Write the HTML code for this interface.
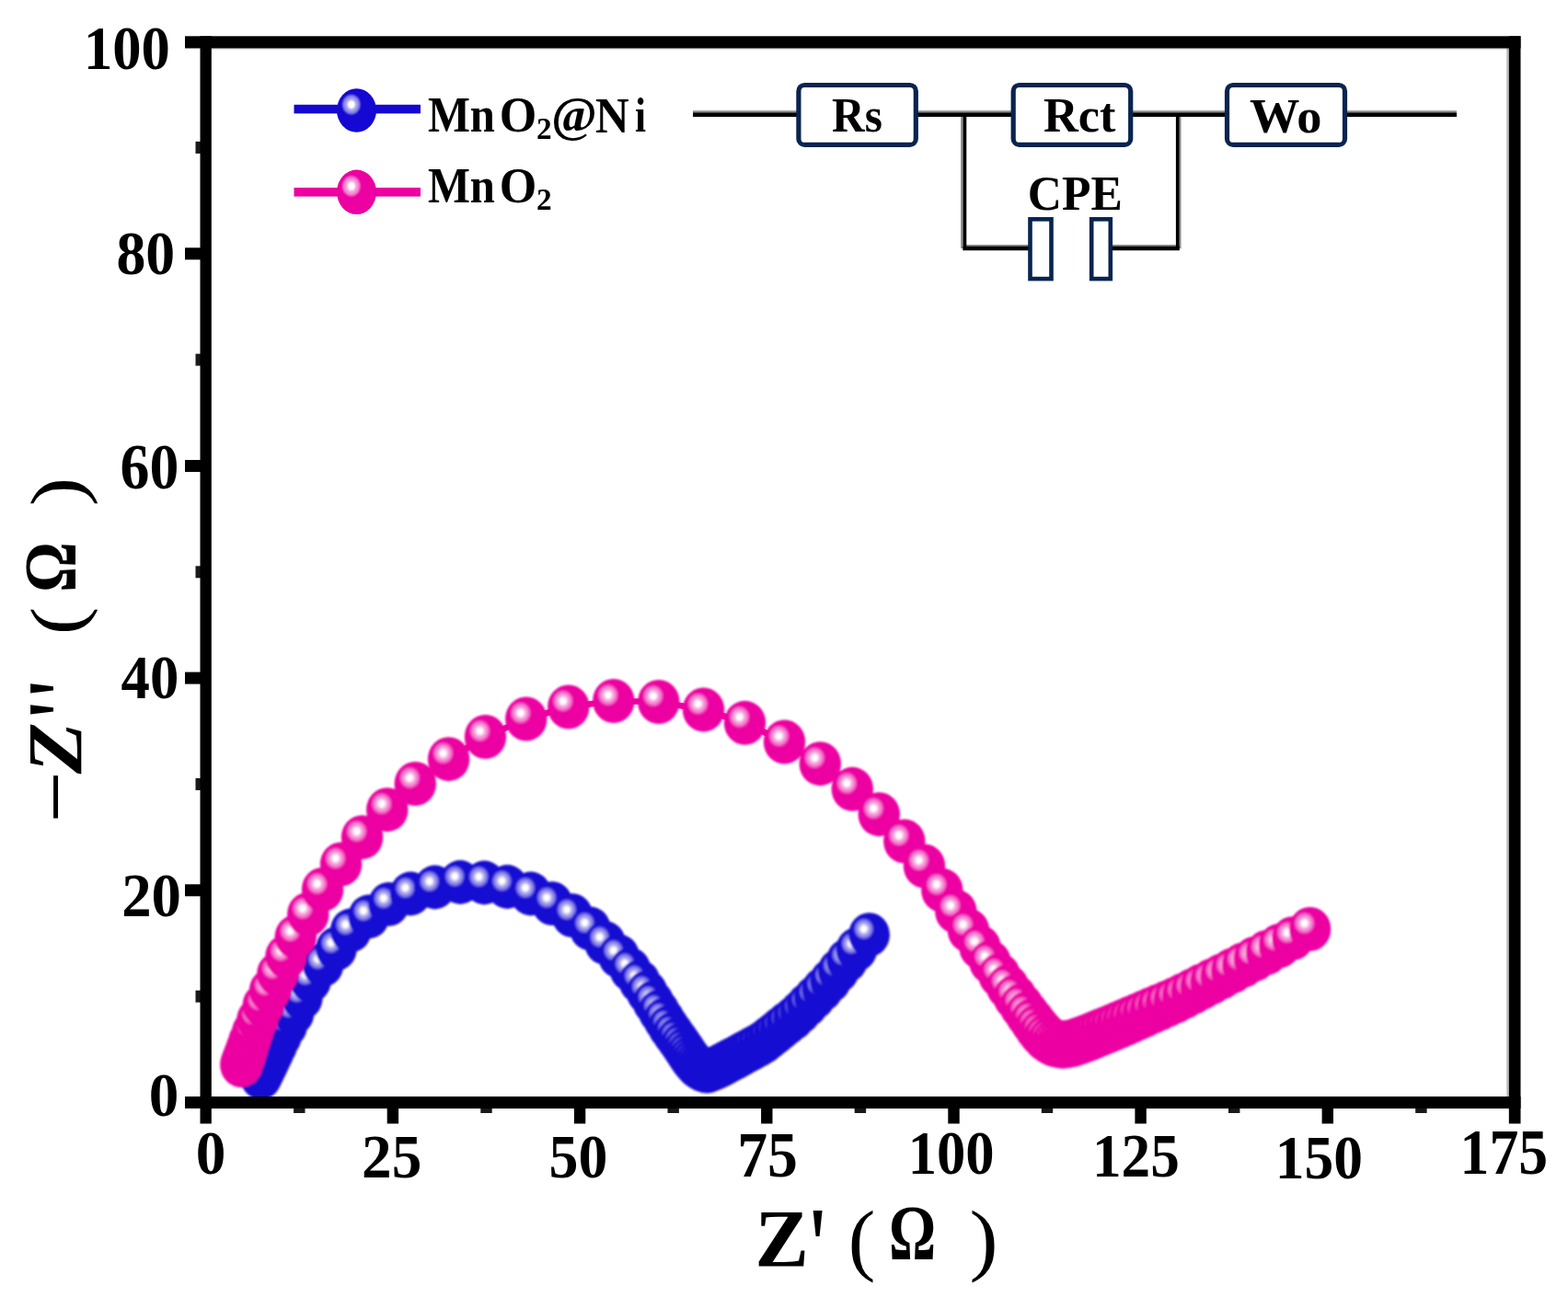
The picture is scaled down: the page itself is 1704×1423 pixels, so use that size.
<!DOCTYPE html>
<html lang="en">
<head>
<meta charset="utf-8">
<title>Nyquist plot: MnO2@Ni vs MnO2</title>
<style>
html,body{margin:0;padding:0;background:#fff;}
body{width:1704px;height:1423px;overflow:hidden;}
svg{display:block;}
</style>
</head>
<body>
<svg width="1704" height="1423" viewBox="0 0 1704 1423" role="img" aria-label="Nyquist plot of MnO2@Ni and MnO2 with equivalent circuit">
<rect width="1704" height="1423" fill="#fff"/>
<defs>
<radialGradient id="gb" cx="0.368" cy="0.366" r="0.262" fx="0.368" fy="0.366"><stop offset="0" stop-color="#fff"/><stop offset="0.24" stop-color="#fff"/><stop offset="0.45" stop-color="#b4b0f1"/><stop offset="0.75" stop-color="#7e77e6"/><stop offset="0.92" stop-color="#3026d7"/><stop offset="1" stop-color="#1408d2"/></radialGradient>
<radialGradient id="gp" cx="0.368" cy="0.366" r="0.262" fx="0.368" fy="0.366"><stop offset="0" stop-color="#fff"/><stop offset="0.24" stop-color="#fff"/><stop offset="0.45" stop-color="#f9ade1"/><stop offset="0.75" stop-color="#f573cb"/><stop offset="0.92" stop-color="#ee1fac"/><stop offset="1" stop-color="#ec00a1"/></radialGradient>
<filter id="soft" x="-2%" y="-5%" width="104%" height="110%"><feGaussianBlur stdDeviation="0.9"/></filter>
</defs>
<!-- series 1: MnO2@Ni -->
<path d="M283.7 1171.4 L285.0 1168.7 L286.6 1165.5 L288.5 1161.6 L290.8 1157.0 L293.5 1151.3 L296.8 1144.6 L300.7 1136.4 L305.4 1126.7 L311.6 1115.1 L319.1 1101.3 L328.3 1084.8 L337.5 1066.0 L351.1 1048.8 L365.5 1031.3 L381.3 1011.5 L400.8 996.5 L422.6 982.8 L446.3 971.5 L472.6 964.5 L500.1 959.0 L526.3 959.5 L551.3 964.0 L576.8 971.5 L600.0 982.2 L621.8 995.2 L641.3 1009.5 L657.5 1025.0 L672.5 1039.5 L684.8 1053.8 L695.0 1067.0 L703.1 1078.7 L710.0 1089.6 L716.1 1099.5 L721.6 1108.4 L726.6 1116.5 L731.5 1123.5 L736.0 1129.9 L740.1 1135.6 L743.6 1140.8 L746.7 1145.6 L749.6 1150.0 L752.4 1153.7 L755.2 1156.9 L757.8 1159.6 L760.7 1161.5 L763.4 1163.1 L766.1 1163.9 L768.5 1164.7 L770.9 1163.7 L773.4 1162.7 L776.1 1161.6 L779.0 1160.4 L782.0 1159.0 L785.1 1157.3 L788.4 1155.6 L792.0 1153.7 L795.8 1151.7 L799.9 1149.6 L804.2 1147.2 L808.7 1144.7 L813.6 1142.0 L818.8 1139.1 L824.4 1136.1 L830.2 1132.6 L835.8 1128.1 L841.9 1123.3 L848.3 1118.2 L855.2 1112.7 L862.6 1106.9 L869.8 1100.1 L877.3 1092.5 L885.3 1084.4 L893.8 1075.7 L902.5 1066.1 L911.2 1055.4 L920.6 1044.0 L930.9 1032.1 L944.6 1016.2" fill="none" stroke="#1408d2" stroke-width="6.7" stroke-linejoin="round" stroke-linecap="round"/>
<g fill="url(#gb)" filter="url(#soft)">
<ellipse cx="283.7" cy="1171.4" rx="22.3" ry="23.9"/>
<ellipse cx="285.0" cy="1168.7" rx="22.3" ry="23.9"/>
<ellipse cx="286.6" cy="1165.5" rx="22.3" ry="23.9"/>
<ellipse cx="288.5" cy="1161.6" rx="22.3" ry="23.9"/>
<ellipse cx="290.8" cy="1157.0" rx="22.3" ry="23.9"/>
<ellipse cx="293.5" cy="1151.3" rx="22.3" ry="23.9"/>
<ellipse cx="296.8" cy="1144.6" rx="22.3" ry="23.9"/>
<ellipse cx="300.7" cy="1136.4" rx="22.3" ry="23.9"/>
<ellipse cx="305.4" cy="1126.7" rx="22.3" ry="23.9"/>
<ellipse cx="311.6" cy="1115.1" rx="22.3" ry="23.9"/>
<ellipse cx="319.1" cy="1101.3" rx="22.3" ry="23.9"/>
<ellipse cx="328.3" cy="1084.8" rx="22.3" ry="23.9"/>
<ellipse cx="337.5" cy="1066.0" rx="22.3" ry="23.9"/>
<ellipse cx="351.1" cy="1048.8" rx="22.3" ry="23.9"/>
<ellipse cx="365.5" cy="1031.3" rx="22.3" ry="23.9"/>
<ellipse cx="381.3" cy="1011.5" rx="22.3" ry="23.9"/>
<ellipse cx="400.8" cy="996.5" rx="22.3" ry="23.9"/>
<ellipse cx="422.6" cy="982.8" rx="22.3" ry="23.9"/>
<ellipse cx="446.3" cy="971.5" rx="22.3" ry="23.9"/>
<ellipse cx="472.6" cy="964.5" rx="22.3" ry="23.9"/>
<ellipse cx="500.1" cy="959.0" rx="22.3" ry="23.9"/>
<ellipse cx="526.3" cy="959.5" rx="22.3" ry="23.9"/>
<ellipse cx="551.3" cy="964.0" rx="22.3" ry="23.9"/>
<ellipse cx="576.8" cy="971.5" rx="22.3" ry="23.9"/>
<ellipse cx="600.0" cy="982.2" rx="22.3" ry="23.9"/>
<ellipse cx="621.8" cy="995.2" rx="22.3" ry="23.9"/>
<ellipse cx="641.3" cy="1009.5" rx="22.3" ry="23.9"/>
<ellipse cx="657.5" cy="1025.0" rx="22.3" ry="23.9"/>
<ellipse cx="672.5" cy="1039.5" rx="22.3" ry="23.9"/>
<ellipse cx="684.8" cy="1053.8" rx="22.3" ry="23.9"/>
<ellipse cx="695.0" cy="1067.0" rx="22.3" ry="23.9"/>
<ellipse cx="703.1" cy="1078.7" rx="22.3" ry="23.9"/>
<ellipse cx="710.0" cy="1089.6" rx="22.3" ry="23.9"/>
<ellipse cx="716.1" cy="1099.5" rx="22.3" ry="23.9"/>
<ellipse cx="721.6" cy="1108.4" rx="22.3" ry="23.9"/>
<ellipse cx="726.6" cy="1116.5" rx="22.3" ry="23.9"/>
<ellipse cx="731.5" cy="1123.5" rx="22.3" ry="23.9"/>
<ellipse cx="736.0" cy="1129.9" rx="22.3" ry="23.9"/>
<ellipse cx="740.1" cy="1135.6" rx="22.3" ry="23.9"/>
<ellipse cx="743.6" cy="1140.8" rx="22.3" ry="23.9"/>
<ellipse cx="746.7" cy="1145.6" rx="22.3" ry="23.9"/>
<ellipse cx="749.6" cy="1150.0" rx="22.3" ry="23.9"/>
<ellipse cx="752.4" cy="1153.7" rx="22.3" ry="23.9"/>
<ellipse cx="755.2" cy="1156.9" rx="22.3" ry="23.9"/>
<ellipse cx="757.8" cy="1159.6" rx="22.3" ry="23.9"/>
<ellipse cx="760.7" cy="1161.5" rx="22.3" ry="23.9"/>
<ellipse cx="763.4" cy="1163.1" rx="22.3" ry="23.9"/>
<ellipse cx="766.1" cy="1163.9" rx="22.3" ry="23.9"/>
<ellipse cx="768.5" cy="1164.7" rx="22.3" ry="23.9"/>
<ellipse cx="770.9" cy="1163.7" rx="22.3" ry="23.9"/>
<ellipse cx="773.4" cy="1162.7" rx="22.3" ry="23.9"/>
<ellipse cx="776.1" cy="1161.6" rx="22.3" ry="23.9"/>
<ellipse cx="779.0" cy="1160.4" rx="22.3" ry="23.9"/>
<ellipse cx="782.0" cy="1159.0" rx="22.3" ry="23.9"/>
<ellipse cx="785.1" cy="1157.3" rx="22.3" ry="23.9"/>
<ellipse cx="788.4" cy="1155.6" rx="22.3" ry="23.9"/>
<ellipse cx="792.0" cy="1153.7" rx="22.3" ry="23.9"/>
<ellipse cx="795.8" cy="1151.7" rx="22.3" ry="23.9"/>
<ellipse cx="799.9" cy="1149.6" rx="22.3" ry="23.9"/>
<ellipse cx="804.2" cy="1147.2" rx="22.3" ry="23.9"/>
<ellipse cx="808.7" cy="1144.7" rx="22.3" ry="23.9"/>
<ellipse cx="813.6" cy="1142.0" rx="22.3" ry="23.9"/>
<ellipse cx="818.8" cy="1139.1" rx="22.3" ry="23.9"/>
<ellipse cx="824.4" cy="1136.1" rx="22.3" ry="23.9"/>
<ellipse cx="830.2" cy="1132.6" rx="22.3" ry="23.9"/>
<ellipse cx="835.8" cy="1128.1" rx="22.3" ry="23.9"/>
<ellipse cx="841.9" cy="1123.3" rx="22.3" ry="23.9"/>
<ellipse cx="848.3" cy="1118.2" rx="22.3" ry="23.9"/>
<ellipse cx="855.2" cy="1112.7" rx="22.3" ry="23.9"/>
<ellipse cx="862.6" cy="1106.9" rx="22.3" ry="23.9"/>
<ellipse cx="869.8" cy="1100.1" rx="22.3" ry="23.9"/>
<ellipse cx="877.3" cy="1092.5" rx="22.3" ry="23.9"/>
<ellipse cx="885.3" cy="1084.4" rx="22.3" ry="23.9"/>
<ellipse cx="893.8" cy="1075.7" rx="22.3" ry="23.9"/>
<ellipse cx="902.5" cy="1066.1" rx="22.3" ry="23.9"/>
<ellipse cx="911.2" cy="1055.4" rx="22.3" ry="23.9"/>
<ellipse cx="920.6" cy="1044.0" rx="22.3" ry="23.9"/>
<ellipse cx="930.9" cy="1032.1" rx="22.3" ry="23.9"/>
<ellipse cx="944.6" cy="1016.2" rx="22.3" ry="23.9"/>
</g>
<!-- series 2: MnO2 -->
<path d="M262.5 1157.5 L263.5 1154.6 L264.7 1150.9 L266.4 1146.1 L268.5 1140.0 L271.2 1131.9 L274.9 1121.7 L280.0 1108.5 L286.3 1093.0 L293.5 1077.0 L301.8 1059.0 L311.0 1039.8 L321.3 1018.5 L334.8 994.0 L350.6 967.0 L370.6 939.5 L393.6 910.2 L420.8 880.2 L451.3 852.0 L487.6 825.2 L527.5 801.0 L571.8 781.5 L617.8 768.5 L666.8 762.0 L715.8 763.0 L764.5 771.5 L809.5 785.8 L852.5 806.5 L891.3 830.2 L926.3 857.8 L955.3 885.2 L982.8 914.5 L1004.5 941.5 L1023.8 967.8 L1038.8 990.8 L1052.5 1011.5 L1065.0 1029.7 L1076.0 1045.9 L1086.0 1060.1 L1095.0 1072.7 L1103.0 1083.9 L1110.2 1093.8 L1116.5 1102.6 L1122.2 1110.4 L1127.2 1117.3 L1132.0 1123.2 L1136.7 1128.1 L1141.5 1131.5 L1146.2 1134.0 L1150.9 1134.9 L1155.0 1135.7 L1159.1 1135.1 L1163.4 1134.5 L1167.7 1133.3 L1172.2 1131.8 L1176.9 1130.1 L1181.8 1128.3 L1186.8 1126.2 L1192.0 1124.0 L1197.5 1121.7 L1203.3 1119.4 L1209.3 1116.9 L1215.7 1114.2 L1222.3 1111.5 L1229.1 1108.5 L1236.3 1105.4 L1243.8 1102.1 L1251.7 1098.6 L1259.9 1095.0 L1268.5 1091.3 L1277.5 1087.3 L1286.7 1082.7 L1296.3 1077.7 L1306.3 1072.5 L1316.8 1067.1 L1327.8 1061.4 L1339.2 1055.4 L1351.2 1049.0 L1363.7 1042.4 L1376.8 1035.4 L1390.5 1028.1 L1404.7 1020.2 L1423.6 1010.0" fill="none" stroke="#ec00a1" stroke-width="6.7" stroke-linejoin="round" stroke-linecap="round"/>
<g fill="url(#gp)" filter="url(#soft)">
<ellipse cx="262.5" cy="1157.5" rx="23.4" ry="24.7"/>
<ellipse cx="263.5" cy="1154.6" rx="23.4" ry="24.7"/>
<ellipse cx="264.7" cy="1150.9" rx="23.3" ry="24.7"/>
<ellipse cx="266.4" cy="1146.1" rx="23.3" ry="24.6"/>
<ellipse cx="268.5" cy="1140.0" rx="23.1" ry="24.5"/>
<ellipse cx="271.2" cy="1131.9" rx="23.0" ry="24.3"/>
<ellipse cx="274.9" cy="1121.7" rx="22.8" ry="24.1"/>
<ellipse cx="280.0" cy="1108.5" rx="22.7" ry="24.0"/>
<ellipse cx="286.3" cy="1093.0" rx="22.7" ry="24.0"/>
<ellipse cx="293.5" cy="1077.0" rx="22.7" ry="24.0"/>
<ellipse cx="301.8" cy="1059.0" rx="22.7" ry="24.0"/>
<ellipse cx="311.0" cy="1039.8" rx="22.7" ry="24.0"/>
<ellipse cx="321.3" cy="1018.5" rx="22.7" ry="24.0"/>
<ellipse cx="334.8" cy="994.0" rx="22.7" ry="24.0"/>
<ellipse cx="350.6" cy="967.0" rx="22.7" ry="24.0"/>
<ellipse cx="370.6" cy="939.5" rx="22.7" ry="24.0"/>
<ellipse cx="393.6" cy="910.2" rx="22.7" ry="24.0"/>
<ellipse cx="420.8" cy="880.2" rx="22.7" ry="24.0"/>
<ellipse cx="451.3" cy="852.0" rx="22.7" ry="24.0"/>
<ellipse cx="487.6" cy="825.2" rx="22.7" ry="24.0"/>
<ellipse cx="527.5" cy="801.0" rx="22.7" ry="24.0"/>
<ellipse cx="571.8" cy="781.5" rx="22.7" ry="24.0"/>
<ellipse cx="617.8" cy="768.5" rx="22.7" ry="24.0"/>
<ellipse cx="666.8" cy="762.0" rx="22.7" ry="24.0"/>
<ellipse cx="715.8" cy="763.0" rx="22.7" ry="24.0"/>
<ellipse cx="764.5" cy="771.5" rx="22.7" ry="24.0"/>
<ellipse cx="809.5" cy="785.8" rx="22.7" ry="24.0"/>
<ellipse cx="852.5" cy="806.5" rx="22.7" ry="24.0"/>
<ellipse cx="891.3" cy="830.2" rx="22.7" ry="24.0"/>
<ellipse cx="926.3" cy="857.8" rx="22.7" ry="24.0"/>
<ellipse cx="955.3" cy="885.2" rx="22.7" ry="24.0"/>
<ellipse cx="982.8" cy="914.5" rx="22.7" ry="24.0"/>
<ellipse cx="1004.5" cy="941.5" rx="22.7" ry="24.0"/>
<ellipse cx="1023.8" cy="967.8" rx="22.7" ry="24.0"/>
<ellipse cx="1038.8" cy="990.8" rx="22.7" ry="24.0"/>
<ellipse cx="1052.5" cy="1011.5" rx="22.7" ry="24.0"/>
<ellipse cx="1065.0" cy="1029.7" rx="22.7" ry="24.0"/>
<ellipse cx="1076.0" cy="1045.9" rx="22.7" ry="24.0"/>
<ellipse cx="1086.0" cy="1060.1" rx="22.8" ry="24.1"/>
<ellipse cx="1095.0" cy="1072.7" rx="23.2" ry="24.5"/>
<ellipse cx="1103.0" cy="1083.9" rx="23.5" ry="24.8"/>
<ellipse cx="1110.2" cy="1093.8" rx="23.8" ry="25.1"/>
<ellipse cx="1116.5" cy="1102.6" rx="24.0" ry="25.4"/>
<ellipse cx="1122.2" cy="1110.4" rx="24.2" ry="25.6"/>
<ellipse cx="1127.2" cy="1117.3" rx="24.4" ry="25.8"/>
<ellipse cx="1132.0" cy="1123.2" rx="24.6" ry="26.0"/>
<ellipse cx="1136.7" cy="1128.1" rx="24.6" ry="26.0"/>
<ellipse cx="1141.5" cy="1131.5" rx="24.6" ry="26.0"/>
<ellipse cx="1146.2" cy="1134.0" rx="24.6" ry="26.0"/>
<ellipse cx="1150.9" cy="1134.9" rx="24.6" ry="26.0"/>
<ellipse cx="1155.0" cy="1135.7" rx="24.6" ry="26.0"/>
<ellipse cx="1159.1" cy="1135.1" rx="24.6" ry="26.0"/>
<ellipse cx="1163.4" cy="1134.5" rx="24.6" ry="26.0"/>
<ellipse cx="1167.7" cy="1133.3" rx="24.6" ry="26.0"/>
<ellipse cx="1172.2" cy="1131.8" rx="24.6" ry="26.0"/>
<ellipse cx="1176.9" cy="1130.1" rx="24.6" ry="26.0"/>
<ellipse cx="1181.8" cy="1128.3" rx="24.6" ry="26.0"/>
<ellipse cx="1186.8" cy="1126.2" rx="24.6" ry="26.0"/>
<ellipse cx="1192.0" cy="1124.0" rx="24.6" ry="26.0"/>
<ellipse cx="1197.5" cy="1121.7" rx="24.6" ry="26.0"/>
<ellipse cx="1203.3" cy="1119.4" rx="24.6" ry="26.0"/>
<ellipse cx="1209.3" cy="1116.9" rx="24.6" ry="26.0"/>
<ellipse cx="1215.7" cy="1114.2" rx="24.6" ry="26.0"/>
<ellipse cx="1222.3" cy="1111.5" rx="24.6" ry="26.0"/>
<ellipse cx="1229.1" cy="1108.5" rx="24.5" ry="25.9"/>
<ellipse cx="1236.3" cy="1105.4" rx="24.4" ry="25.8"/>
<ellipse cx="1243.8" cy="1102.1" rx="24.4" ry="25.8"/>
<ellipse cx="1251.7" cy="1098.6" rx="24.3" ry="25.7"/>
<ellipse cx="1259.9" cy="1095.0" rx="24.2" ry="25.6"/>
<ellipse cx="1268.5" cy="1091.3" rx="24.1" ry="25.5"/>
<ellipse cx="1277.5" cy="1087.3" rx="24.0" ry="25.4"/>
<ellipse cx="1286.7" cy="1082.7" rx="23.9" ry="25.3"/>
<ellipse cx="1296.3" cy="1077.7" rx="23.9" ry="25.2"/>
<ellipse cx="1306.3" cy="1072.5" rx="23.8" ry="25.1"/>
<ellipse cx="1316.8" cy="1067.1" rx="23.6" ry="25.0"/>
<ellipse cx="1327.8" cy="1061.4" rx="23.5" ry="24.9"/>
<ellipse cx="1339.2" cy="1055.4" rx="23.4" ry="24.8"/>
<ellipse cx="1351.2" cy="1049.0" rx="23.3" ry="24.6"/>
<ellipse cx="1363.7" cy="1042.4" rx="23.2" ry="24.5"/>
<ellipse cx="1376.8" cy="1035.4" rx="23.1" ry="24.4"/>
<ellipse cx="1390.5" cy="1028.1" rx="22.9" ry="24.2"/>
<ellipse cx="1404.7" cy="1020.2" rx="22.7" ry="24.0"/>
<ellipse cx="1423.6" cy="1010.0" rx="22.7" ry="24.0"/>
</g>
<!-- axes frame -->
<g fill="#000">
<rect x="201" y="39.3" width="1451.5" height="13.2"/>
<rect x="217.5" y="39.3" width="12.3" height="1182.2"/>
<rect x="1639.8" y="39.3" width="12.7" height="1182.2"/>
<rect x="201" y="1192" width="1451.5" height="13"/>
<rect x="201" y="961.3" width="17" height="13"/>
<rect x="201" y="730.6" width="17" height="13"/>
<rect x="201" y="500.0" width="17" height="13"/>
<rect x="201" y="269.3" width="17" height="13"/>
<rect x="212.5" y="1076.7" width="6" height="13" opacity="0.9"/>
<rect x="212.5" y="846.0" width="6" height="13" opacity="0.9"/>
<rect x="212.5" y="615.3" width="6" height="13" opacity="0.9"/>
<rect x="212.5" y="384.6" width="6" height="13" opacity="0.9"/>
<rect x="212.5" y="153.9" width="6" height="13" opacity="0.9"/>
<rect x="420.7" y="1204" width="12.4" height="17.5"/>
<rect x="623.9" y="1204" width="12.4" height="17.5"/>
<rect x="827.1" y="1204" width="12.4" height="17.5"/>
<rect x="1030.3" y="1204" width="12.4" height="17.5"/>
<rect x="1233.4" y="1204" width="12.4" height="17.5"/>
<rect x="1436.6" y="1204" width="12.4" height="17.5"/>
<rect x="319.1" y="1204" width="12.4" height="6" opacity="0.9"/>
<rect x="522.3" y="1204" width="12.4" height="6" opacity="0.9"/>
<rect x="725.5" y="1204" width="12.4" height="6" opacity="0.9"/>
<rect x="928.7" y="1204" width="12.4" height="6" opacity="0.9"/>
<rect x="1131.8" y="1204" width="12.4" height="6" opacity="0.9"/>
<rect x="1335.0" y="1204" width="12.4" height="6" opacity="0.9"/>
<rect x="1538.2" y="1204" width="12.4" height="6" opacity="0.9"/>
</g>
<g fill="#000" opacity="0.12">
<rect x="229.8" y="52.5" width="1410" height="1.6"/>
<rect x="229.8" y="1205" width="1410" height="1.6"/>
</g>
<rect x="1637.3" y="52.5" width="2.5" height="1139.5" fill="#000" opacity="0.28"/>
<!-- tick labels -->
<g fill="#000">
<text transform="matrix(0.9211 0 0 1.0054 90.89 75.24)" font-family="'Liberation Serif', serif" font-size="68" font-weight="bold" font-style="normal" >100</text>
<text transform="matrix(0.9375 0 0 1.0054 126.38 297.74)" font-family="'Liberation Serif', serif" font-size="68" font-weight="bold" font-style="normal" >80</text>
<text transform="matrix(0.9375 0 0 1.0109 130.62 530.99)" font-family="'Liberation Serif', serif" font-size="68" font-weight="bold" font-style="normal" >60</text>
<text transform="matrix(0.9231 0 0 0.9946 131.58 758.51)" font-family="'Liberation Serif', serif" font-size="68" font-weight="bold" font-style="normal" >40</text>
<text transform="matrix(0.9524 0 0 0.9946 132.14 996.01)" font-family="'Liberation Serif', serif" font-size="68" font-weight="bold" font-style="normal" >20</text>
<text transform="matrix(0.9583 0 0 0.9946 161.83 1213.01)" font-family="'Liberation Serif', serif" font-size="68" font-weight="bold" font-style="normal" >0</text>
<text transform="matrix(0.9600 0 0 1.0065 212.78 1276.29)" font-family="'Liberation Serif', serif" font-size="68" font-weight="bold" font-style="normal" >0</text>
<text transform="matrix(0.9603 0 0 1.0000 393.12 1280.00)" font-family="'Liberation Serif', serif" font-size="68" font-weight="bold" font-style="normal" >25</text>
<text transform="matrix(0.9375 0 0 0.9957 596.62 1280.30)" font-family="'Liberation Serif', serif" font-size="68" font-weight="bold" font-style="normal" >50</text>
<text transform="matrix(0.9677 0 0 1.0111 801.13 1278.99)" font-family="'Liberation Serif', serif" font-size="68" font-weight="bold" font-style="normal" >75</text>
<text transform="matrix(0.9211 0 0 0.9946 986.64 1275.51)" font-family="'Liberation Serif', serif" font-size="68" font-weight="bold" font-style="normal" >100</text>
<text transform="matrix(0.9305 0 0 0.9891 1186.95 1279.01)" font-family="'Liberation Serif', serif" font-size="68" font-weight="bold" font-style="normal" >125</text>
<text transform="matrix(0.9337 0 0 1.0065 1385.83 1280.79)" font-family="'Liberation Serif', serif" font-size="68" font-weight="bold" font-style="normal" >150</text>
<text transform="matrix(0.9368 0 0 1.0222 1586.62 1275.68)" font-family="'Liberation Serif', serif" font-size="68" font-weight="bold" font-style="normal" >175</text>
</g>
<!-- axis titles -->
<g fill="#000">
<text font-family="'Liberation Serif', serif" font-weight="bold"><tspan x="820.48" y="1376.00" font-size="88.53" textLength="58.38" lengthAdjust="spacingAndGlyphs">Z</tspan><tspan x="877.80" y="1393.69" font-size="117.66" textLength="21.75" lengthAdjust="spacingAndGlyphs">'</tspan> <tspan x="921.74" y="1375.83" font-size="85.88" textLength="29.59" lengthAdjust="spacingAndGlyphs" font-weight="normal">(</tspan><tspan x="966.06" y="1368.83" font-size="84.05" textLength="51.13" lengthAdjust="spacingAndGlyphs">Ω</tspan><tspan x="1053.45" y="1375.83" font-size="85.88" textLength="31.13" lengthAdjust="spacingAndGlyphs" font-weight="normal">)</tspan></text>
<text font-family="'Liberation Serif', serif" font-weight="bold" transform="rotate(-90)"><tspan x="-894.59" y="94.40" font-size="100.05" textLength="56.26" lengthAdjust="spacingAndGlyphs" font-weight="normal">−</tspan><tspan x="-841.25" y="88.75" font-size="83.95" textLength="56.02" lengthAdjust="spacingAndGlyphs" font-style="italic">Z</tspan><tspan x="-782.67" y="102.89" font-size="106.68" textLength="45.66" lengthAdjust="spacingAndGlyphs">''</tspan> <tspan x="-690.12" y="88.77" font-size="80.87" textLength="30.19" lengthAdjust="spacingAndGlyphs" font-weight="normal">(</tspan><tspan x="-643.63" y="82.08" font-size="80.00" textLength="54.50" lengthAdjust="spacingAndGlyphs">Ω</tspan><tspan x="-550.17" y="88.77" font-size="80.87" textLength="31.50" lengthAdjust="spacingAndGlyphs" font-weight="normal">)</tspan></text>
</g>
<!-- legend -->
<rect x="319.5" y="113.8" width="137.5" height="9.6" fill="#1408d2"/>
<ellipse cx="387.5" cy="120" rx="21.5" ry="23.7" fill="url(#gb)"/>
<rect x="319.5" y="204" width="137.5" height="9.6" fill="#ec00a1"/>
<ellipse cx="387.5" cy="208.8" rx="21.5" ry="24.2" fill="url(#gp)"/>
<g fill="#000">
<text font-family="'Liberation Serif', serif" font-weight="bold"><tspan x="464.90" y="143.10" font-size="54.00" textLength="73.00" lengthAdjust="spacingAndGlyphs">Mn</tspan><tspan x="542.87" y="142.88" font-size="54.88" textLength="40.58" lengthAdjust="spacingAndGlyphs">O</tspan><tspan x="582.95" y="151.00" font-size="33.83" textLength="16.68" lengthAdjust="spacingAndGlyphs">2</tspan><tspan x="599.14" y="143.05" font-size="55.88" textLength="49.56" lengthAdjust="spacingAndGlyphs">@</tspan><tspan x="647.06" y="143.70" font-size="54.90" textLength="36.64" lengthAdjust="spacingAndGlyphs">N</tspan><tspan x="690.00" y="143.10" font-size="51.87" textLength="12.01" lengthAdjust="spacingAndGlyphs">i</tspan></text>
<text font-family="'Liberation Serif', serif" font-weight="bold"><tspan x="464.90" y="219.90" font-size="54.00" textLength="73.00" lengthAdjust="spacingAndGlyphs">Mn</tspan><tspan x="542.87" y="219.68" font-size="54.88" textLength="40.58" lengthAdjust="spacingAndGlyphs">O</tspan><tspan x="582.95" y="227.80" font-size="33.83" textLength="16.68" lengthAdjust="spacingAndGlyphs">2</tspan></text>
</g>
<!-- equivalent circuit -->
<g fill="none" stroke="#000" stroke-opacity="0.45" stroke-width="3">
<path d="M753 121.7H867M997 121.7H1100M1230 121.7H1332M1463 121.7H1583"/>
<path d="M1045.6 126V270M1282 126V270"/>
<path d="M1048 267.6H1118M1208 267.6H1279"/>
</g>
<g fill="none" stroke="#000" stroke-width="4.4">
<path d="M753 124.8H867M997 124.8H1100M1230 124.8H1332M1463 124.8H1583"/>
<path d="M1046.5 270H1118M1281.7 270H1208"/>
</g>
<g fill="none" stroke="#000" stroke-width="3.6">
<path d="M1048.5 124.8V272M1279.7 124.8V272"/>
</g>
<g fill="#fff" stroke="#08244f" stroke-width="5.2">
<rect x="867.9" y="92.5" width="127.4" height="64.9" rx="6.5"/>
<rect x="1101.2" y="92.5" width="127.5" height="64.9" rx="6.5"/>
<rect x="1333.5" y="92.5" width="128" height="64.9" rx="6.5"/>
</g>
<g fill="#fff" stroke="#08244f" stroke-width="4.6">
<rect x="1119.5" y="238.3" width="23" height="64.8"/>
<rect x="1186.2" y="238.3" width="20.6" height="64.8"/>
</g>
<g fill="#000">
<text transform="matrix(0.9138 0 0 0.9608 904.09 143.34)" font-family="'Liberation Serif', serif" font-size="54" font-weight="bold" font-style="normal" >Rs</text>
<text transform="matrix(0.9688 0 0 0.9608 1134.03 143.34)" font-family="'Liberation Serif', serif" font-size="54" font-weight="bold" font-style="normal" >Rct</text>
<text transform="matrix(1.0066 0 0 0.9662 1358.00 143.53)" font-family="'Liberation Serif', serif" font-size="54" font-weight="bold" font-style="normal" >Wo</text>
<text transform="matrix(0.9543 0 0 0.9892 1116.84 227.61)" font-family="'Liberation Serif', serif" font-size="54" font-weight="bold" font-style="normal" >CPE</text>
</g>
</svg>
</body>
</html>
